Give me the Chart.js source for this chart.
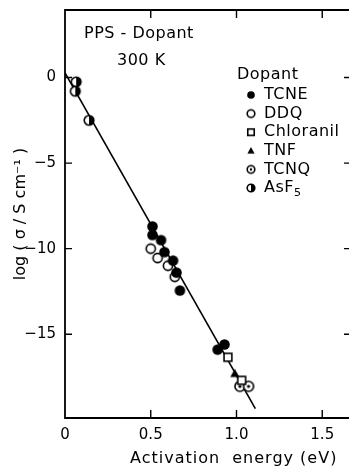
<!DOCTYPE html>
<html>
<head>
<meta charset="utf-8">
<script src="https://cdn.jsdelivr.net/npm/chart.js@4"></script>
<style>
  html, body { margin: 0; padding: 0; background: #fff; overflow: hidden; }
</style>
</head>
<body>
<canvas id="chart" width="349" height="467"></canvas>
<script>
// conductivity vs activation energy, one pair of arrays per dopant
const tcneX = [0.51, 0.51, 0.56, 0.58, 0.63, 0.65, 0.67, 0.89, 0.93];
const tcneY = [-8.7, -9.2, -9.5, -10.2, -10.7, -11.4, -12.45, -15.9, -15.6];
const ddqX = [0.50, 0.54, 0.60, 0.64];
const ddqY = [-10.0, -10.55, -11.0, -11.65];
const chloranilX = [0.95, 1.03];
const chloranilY = [-16.35, -17.7];
const tnfX = [0.99];
const tnfY = [-17.3];
const tcnqX = [1.02, 1.07];
const tcnqY = [-18.05, -18.05];
const asf5X = [0.065, 0.06, 0.14];
const asf5Y = [-0.25, -0.8, -2.5];

// straight-line fit through all dopants
const fitX = [0, 1.11];
const fitY = [0.27, -19.35];

const xTicks = [0, 0.5, 1.0, 1.5];
const xTickLabels = ['0', '0.5', '1.0', '1.5'];
const yTicks = [0, -5, -10, -15];

const dopants = ['TCNE', 'DDQ', 'Chloranil', 'TNF', 'TCNQ', 'AsF5'];
const FONT = '"DejaVu Sans", sans-serif';

function pts(xs, ys) {
  return xs.map((x, i) => ({ x: x, y: ys[i] }));
}

// marker glyphs drawn into small canvases
function makeMarker(kind, r) {
  const s = Math.ceil(r * 2 + 4);
  const c = document.createElement('canvas');
  c.width = s; c.height = s;
  const g = c.getContext('2d');
  const m = s / 2;
  g.lineWidth = 1.6;
  g.strokeStyle = '#000';
  g.fillStyle = '#000';
  const circle = () => { g.beginPath(); g.arc(m, m, r, 0, Math.PI * 2); };
  if (kind === 'filled') {
    circle(); g.fill();
  } else if (kind === 'open') {
    circle(); g.fillStyle = '#fff'; g.fill(); g.stroke();
  } else if (kind === 'square') {
    const h = r * 0.85;
    g.fillStyle = '#fff';
    g.fillRect(m - h, m - h, 2 * h, 2 * h);
    g.strokeRect(m - h, m - h, 2 * h, 2 * h);
  } else if (kind === 'triangle') {
    g.beginPath();
    g.moveTo(m, m - r);
    g.lineTo(m + r * 0.95, m + r * 0.75);
    g.lineTo(m - r * 0.95, m + r * 0.75);
    g.closePath(); g.fill();
  } else if (kind === 'dotted') {
    circle(); g.fillStyle = '#fff'; g.fill(); g.stroke();
    g.fillStyle = '#000';
    g.beginPath(); g.arc(m, m, r * 0.32, 0, Math.PI * 2); g.fill();
  } else if (kind === 'half') {
    circle(); g.fillStyle = '#fff'; g.fill(); g.stroke();
    g.fillStyle = '#000';
    g.beginPath(); g.arc(m, m, r, -Math.PI / 2, Math.PI / 2); g.closePath(); g.fill();
  }
  return c;
}

const kinds = ['filled', 'open', 'square', 'triangle', 'dotted', 'half'];
const sizes = [5.3, 4.6, 4.6, 4.8, 5.0, 4.8];
const plotMarkers = kinds.map((k, i) => makeMarker(k, sizes[i]));
const legendMarkers = kinds.map(k => makeMarker(k, 3.8));

const seriesX = [tcneX, ddqX, chloranilX, tnfX, tcnqX, asf5X];
const seriesY = [tcneY, ddqY, chloranilY, tnfY, tcnqY, asf5Y];

const datasets = dopants.map((name, i) => ({
  label: name,
  data: pts(seriesX[i], seriesY[i]),
  pointStyle: plotMarkers[i],
  pointRadius: 5,
  order: 1
}));
datasets.push({
  label: 'fit',
  data: pts(fitX, fitY),
  showLine: true,
  borderColor: '#000',
  borderWidth: 1.6,
  pointRadius: 0,
  order: 10
});

// open-right frame (right edge runs off the page), inward ticks, text and key
const decor = {
  id: 'decor',
  afterDraw(chart) {
    const ctx = chart.ctx;
    const { left, right, top, bottom } = chart.chartArea;
    const xs = chart.scales.x, ys = chart.scales.y;
    ctx.save();
    ctx.strokeStyle = '#000';
    ctx.lineWidth = 1.8;
    ctx.beginPath();
    ctx.moveTo(right, top); ctx.lineTo(left, top);
    ctx.lineTo(left, bottom); ctx.lineTo(right, bottom);
    ctx.stroke();
    ctx.lineWidth = 1.4;
    ctx.beginPath();
    xTicks.slice(1).forEach(v => {
      const px = xs.getPixelForValue(v);
      ctx.moveTo(px, bottom); ctx.lineTo(px, bottom - 8);
      ctx.moveTo(px, top); ctx.lineTo(px, top + 8);
    });
    yTicks.forEach(v => {
      const py = ys.getPixelForValue(v);
      ctx.moveTo(left, py); ctx.lineTo(left + 7, py);
      ctx.moveTo(right, py); ctx.lineTo(right - 5, py);
    });
    ctx.stroke();

    ctx.fillStyle = '#000';
    ctx.textBaseline = 'alphabetic';
    ctx.font = '16px ' + FONT;
    ctx.letterSpacing = '0.5px';
    ctx.fillText('PPS - Dopant', 84, 38);
    ctx.fillText('300 K', 117, 65);
    ctx.fillText('Dopant', 237, 79);

    // spaced-out x axis title
    ctx.letterSpacing = '1px';
    ctx.textAlign = 'left';
    ctx.fillText('Activation  energy (eV)', 130, 463);

    ctx.letterSpacing = '0.5px';
    dopants.forEach((name, i) => {
      const cy = 95 + i * 18.6;
      const mk = legendMarkers[i];
      ctx.drawImage(mk, 251 - mk.width / 2, cy - mk.height / 2);
      ctx.textBaseline = 'middle';
      if (name === 'AsF5') {
        ctx.font = '16px ' + FONT;
        ctx.fillText('AsF', 264, cy);
        const w = ctx.measureText('AsF').width;
        ctx.font = '11px ' + FONT;
        ctx.fillText('5', 264 + w, cy + 5);
      } else {
        ctx.font = '16px ' + FONT;
        ctx.fillText(name, 264, cy);
      }
    });
    ctx.restore();
  }
};

new Chart(document.getElementById('chart'), {
  type: 'scatter',
  data: { datasets: datasets },
  plugins: [decor],
  options: {
    responsive: false,
    animation: false,
    layout: { autoPadding: false, padding: { left: 0, top: 10, right: 0, bottom: 0 } },
    plugins: { legend: { display: false }, tooltip: { enabled: false } },
    scales: {
      x: {
        type: 'linear',
        min: 0,
        max: 1.656,
        afterFit(s) { s.height = 49; s.paddingRight = 0; s.paddingLeft = 0; },
        afterBuildTicks(s) { s.ticks = xTicks.map(v => ({ value: v })); },
        grid: { display: false, drawTicks: false },
        border: { display: false },
        ticks: {
          color: '#000',
          padding: 8,
          font: { family: FONT, size: 15 },
          callback: (v) => xTickLabels[xTicks.indexOf(v)]
        },
        title: { display: false }
      },
      y: {
        type: 'linear',
        min: -19.9,
        max: 3.95,
        afterFit(s) { s.width = 65; s.paddingTop = 0; s.paddingBottom = 0; },
        afterBuildTicks(s) { s.ticks = yTicks.map(v => ({ value: v })); },
        grid: { display: false, drawTicks: false },
        border: { display: false },
        ticks: {
          color: '#000',
          padding: 9,
          font: { family: FONT, size: 15 },
          callback: (v) => (v < 0 ? '\u2212' + Math.abs(v) : String(v))
        },
        title: {
          display: true,
          text: 'log ( \u03c3 / S cm\u207b\u00b9 )',
          color: '#000',
          font: { family: FONT, size: 16 },
          padding: { top: 11, bottom: 0 }
        }
      }
    }
  }
});
</script>
</body>
</html>
